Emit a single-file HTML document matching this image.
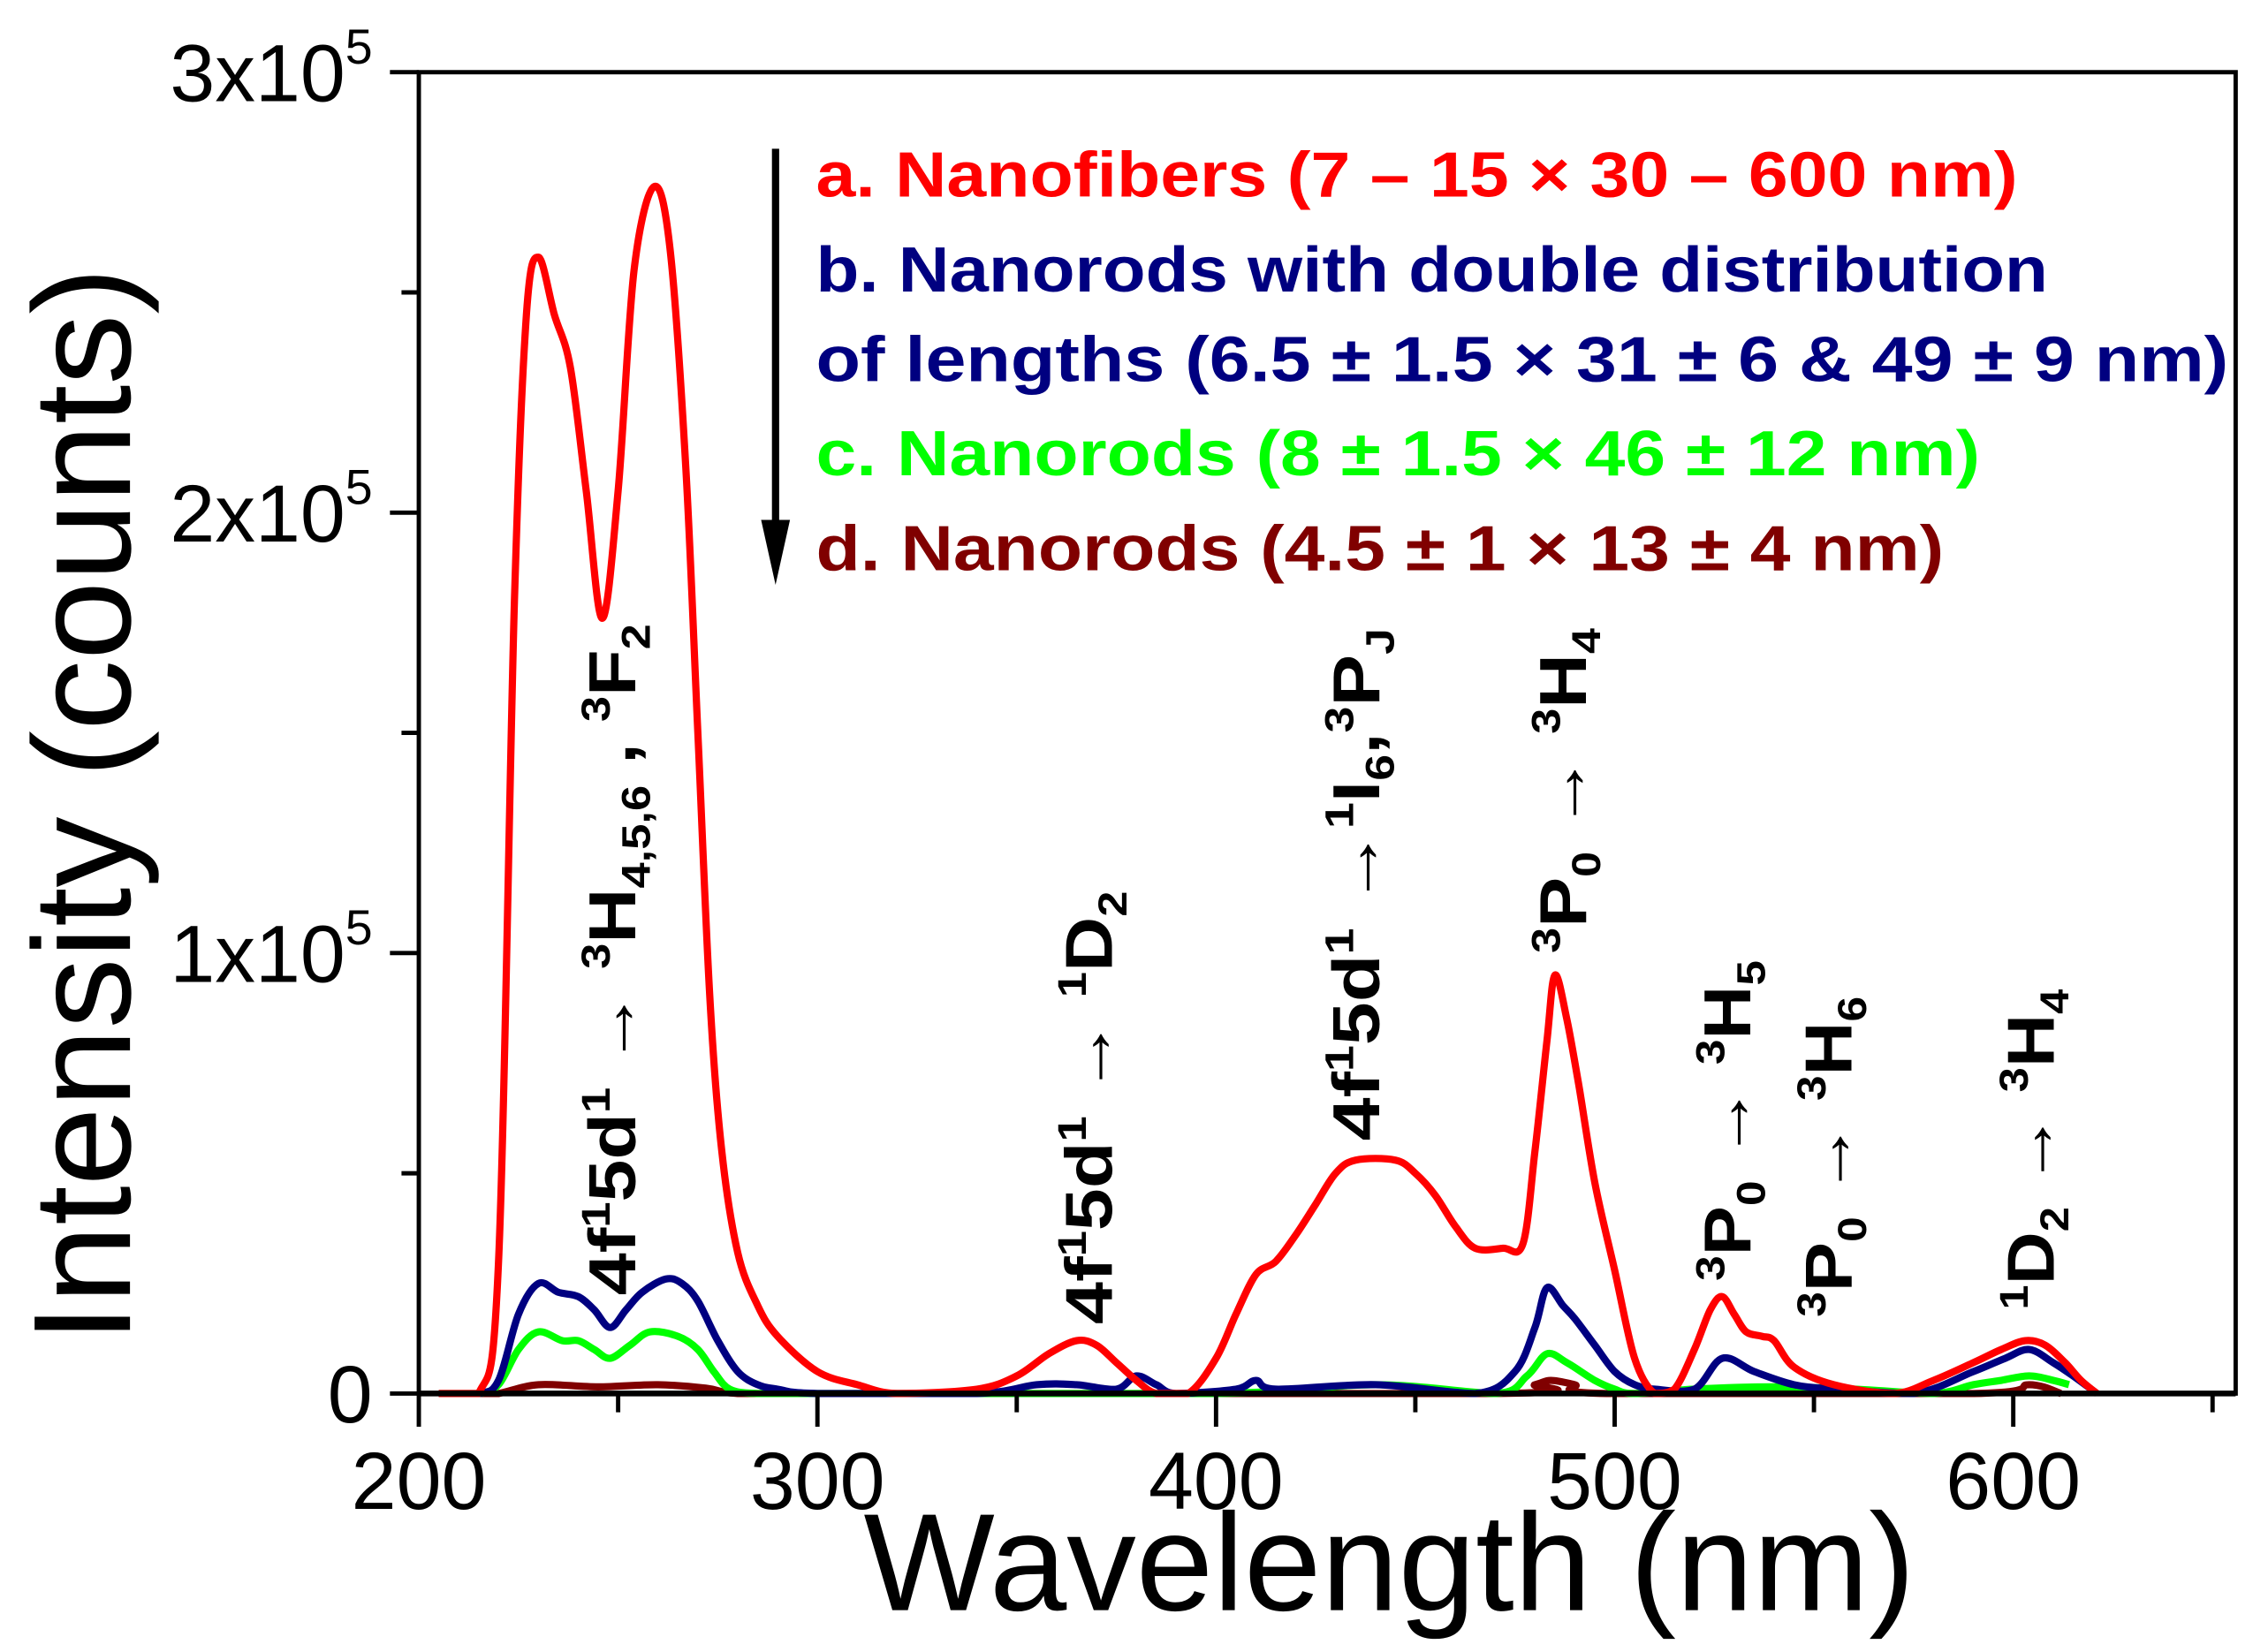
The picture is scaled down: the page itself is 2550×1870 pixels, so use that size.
<!DOCTYPE html>
<html><head><meta charset="utf-8"><style>
html,body{margin:0;padding:0;background:#fff;}
svg{display:block;}
text{font-family:"Liberation Sans",sans-serif;}
</style></head><body>
<svg id="chart" width="2550" height="1870" viewBox="0 0 1560 1144" xmlns="http://www.w3.org/2000/svg">
<rect width="1560" height="1144" fill="#fff"/>
<g id="frame"></g>
<g id="series"></g>
<g id="axes"></g>
<text x="962" y="1115" font-size="96" text-anchor="middle" textLength="728" lengthAdjust="spacingAndGlyphs">Wavelength (nm)</text>
<text transform="translate(90,930) rotate(-90)" font-size="96" textLength="745" lengthAdjust="spacingAndGlyphs">Intensity (counts)</text>
<g font-weight="bold" font-size="44">
<line x1="537" y1="103" x2="537" y2="370" stroke="#000" stroke-width="5"/>
<polygon points="527,360 547,360 537,405" fill="#000"/>
<text x="565" y="136" fill="#ff0000" textLength="832" lengthAdjust="spacingAndGlyphs">a. Nanofibers (7 – 15 × 30 – 600 nm)</text>
<text x="565" y="202" fill="#000080" textLength="853" lengthAdjust="spacingAndGlyphs">b. Nanorods with double distribution</text>
<text x="565" y="264" fill="#000080" textLength="978" lengthAdjust="spacingAndGlyphs">of lengths (6.5 ± 1.5 × 31 ± 6 &amp; 49 ± 9 nm)</text>
<text x="565" y="329" fill="#00ff00" textLength="806" lengthAdjust="spacingAndGlyphs">c. Nanorods (8 ± 1.5 × 46 ± 12 nm)</text>
<text x="565" y="395" fill="#800000" textLength="781" lengthAdjust="spacingAndGlyphs">d. Nanorods (4.5 ± 1 × 13 ± 4 nm)</text>
</g>
<g font-weight="bold" font-size="46" fill="#000">
<text transform="translate(440,897) rotate(-90)" textLength="465" lengthAdjust="spacingAndGlyphs">4f<tspan font-size="28" dy="-18">1</tspan><tspan dy="18">5d</tspan><tspan font-size="28" dy="-18">1</tspan><tspan dy="18"> → </tspan><tspan font-size="28" dy="-18">3</tspan><tspan dy="18">H</tspan><tspan font-size="28" dy="10">4,5,6</tspan><tspan dy="-10"> , </tspan><tspan font-size="28" dy="-18">3</tspan><tspan dy="18">F</tspan><tspan font-size="28" dy="10">2</tspan></text>
<text transform="translate(770,917) rotate(-90)" textLength="300" lengthAdjust="spacingAndGlyphs">4f<tspan font-size="28" dy="-18">1</tspan><tspan dy="18">5d</tspan><tspan font-size="28" dy="-18">1</tspan><tspan dy="18"> → </tspan><tspan font-size="28" dy="-18">1</tspan><tspan dy="18">D</tspan><tspan font-size="28" dy="10">2</tspan></text>
<text transform="translate(955,790) rotate(-90)" textLength="355" lengthAdjust="spacingAndGlyphs">4f<tspan font-size="28" dy="-18">1</tspan><tspan dy="18">5d</tspan><tspan font-size="28" dy="-18">1</tspan><tspan dy="18"> →</tspan><tspan font-size="28" dy="-18">1</tspan><tspan dy="18">I</tspan><tspan font-size="28" dy="10">6</tspan><tspan dy="-10">,</tspan><tspan font-size="28" dy="-18">3</tspan><tspan dy="18">P</tspan><tspan font-size="28" dy="10">J</tspan></text>
<text transform="translate(1098,660) rotate(-90)" textLength="225" lengthAdjust="spacingAndGlyphs"><tspan font-size="28" dy="-18">3</tspan><tspan dy="18">P</tspan><tspan font-size="28" dy="10">0</tspan><tspan dy="-10"> → </tspan><tspan font-size="28" dy="-18">3</tspan><tspan dy="18">H</tspan><tspan font-size="28" dy="10">4</tspan></text>
<text transform="translate(1212,887) rotate(-90)" textLength="222" lengthAdjust="spacingAndGlyphs"><tspan font-size="28" dy="-18">3</tspan><tspan dy="18">P</tspan><tspan font-size="28" dy="10">0</tspan><tspan dy="-10"> → </tspan><tspan font-size="28" dy="-18">3</tspan><tspan dy="18">H</tspan><tspan font-size="28" dy="10">5</tspan></text>
<text transform="translate(1282,912) rotate(-90)" textLength="222" lengthAdjust="spacingAndGlyphs"><tspan font-size="28" dy="-18">3</tspan><tspan dy="18">P</tspan><tspan font-size="28" dy="10">0</tspan><tspan dy="-10"> → </tspan><tspan font-size="28" dy="-18">3</tspan><tspan dy="18">H</tspan><tspan font-size="28" dy="10">6</tspan></text>
<text transform="translate(1422,907) rotate(-90)" textLength="222" lengthAdjust="spacingAndGlyphs"><tspan font-size="28" dy="-18">1</tspan><tspan dy="18">D</tspan><tspan font-size="28" dy="10">2</tspan><tspan dy="-10"> → </tspan><tspan font-size="28" dy="-18">3</tspan><tspan dy="18">H</tspan><tspan font-size="28" dy="10">4</tspan></text>
</g>
</svg>
<script>
const xTicks = [200, 300, 400, 500, 600];
const xMinor = [250, 350, 450, 550, 650];
const yTicks = [0, 100000, 200000, 300000];
const yTickLabels = ["0", "1x10", "2x10", "3x10"];
const yMinor = [50000, 150000, 250000];

const wlA = [205,215,220,224,227,230,234,238,242,246,250,254,259,263,267,270,273,276,280,285,290,300,310,320,340,350,358,365,370,375,380,385,393,400,405,410,415,420,425,430,435,445,450,455,460,465,472,477,480,483,485,488,491,495,500,505,510,515,520,524,527,530,533,537,540,545,555,570,580,590,597,603,608,613,617,621];
const valA = [0,0,30000,180000,245000,258000,245000,233000,205000,176000,205000,255000,274000,260000,210000,150000,90000,55000,32000,20000,13000,5000,2000,0,1000,4000,9000,12000,11000,7000,3000,0,0,8000,18000,27000,30000,36000,43000,50000,53000,53000,50000,45000,38000,33000,33000,34000,55000,80000,95000,85000,70000,48000,28000,8000,0,1000,10000,19000,22000,18000,14000,13000,12000,6000,2000,0,3000,7000,10000,12000,11000,7000,3000,0];

const wlB = [205,215,220,225,230,235,240,244,248,252,256,262,266,270,275,280,285,290,300,340,355,365,375,380,385,390,405,410,415,440,465,475,480,483,487,490,495,500,505,510,520,527,535,545,555,575,590,598,604,610,615,621];
const valB = [0,0,3000,18000,25000,23000,22000,19000,15000,19000,23000,26000,25000,21000,12000,5000,2000,1000,0,0,2000,2000,1000,4000,2000,0,1000,3000,1000,2000,0,5000,15000,24000,20000,17000,11000,5000,2000,1000,1000,8000,5000,2000,1000,0,5000,8000,10000,7000,4000,0];

const wlC = [205,215,220,225,230,236,240,244,248,253,258,265,270,274,278,285,300,400,440,470,478,483,488,495,500,505,520,540,560,580,590,597,604,610,614];
const valC = [0,0,2000,10000,14000,12000,12000,10000,8000,11000,14000,13000,10000,5000,1000,0,0,0,2000,0,4000,9000,7000,3000,1000,0,1000,1500,1000,0,2000,3000,4000,3000,2000];

const wlD = [215,220,230,245,260,272,280,300,470,480,484,490,498,590,604,612];
const valD = [0,0,2000,1500,2000,1200,0,0,0,2000,3000,2000,0,0,2000,0];

const NS = "http://www.w3.org/2000/svg";
const X0 = 290, PXNM = 276 / 100, Y0 = 965, PXV = 305 / 100000;
function xs(w) { return X0 + (w - 200) * PXNM; }
function ys(v) { return Y0 - v * PXV; }
function mk(tag, attrs, parent) {
  const e = document.createElementNS(NS, tag);
  for (const k in attrs) e.setAttribute(k, attrs[k]);
  parent.appendChild(e);
  return e;
}
function smoothPath(wl, val) {
  const p = wl.map((w, i) => [xs(w), ys(val[i])]);
  let d = "M" + p[0][0].toFixed(1) + "," + p[0][1].toFixed(1);
  const cl = y => Math.min(y, Y0);
  for (let i = 0; i < p.length - 1; i++) {
    const p0 = p[i - 1] || p[i], p1 = p[i], p2 = p[i + 1], p3 = p[i + 2] || p2;
    const c1 = [p1[0] + (p2[0] - p0[0]) / 6, cl(p1[1] + (p2[1] - p0[1]) / 6)];
    const c2 = [p2[0] - (p3[0] - p1[0]) / 6, cl(p2[1] - (p3[1] - p1[1]) / 6)];
    d += " C" + c1.map(v => v.toFixed(1)).join(",") + " " + c2.map(v => v.toFixed(1)).join(",") + " " + p2[0].toFixed(1) + "," + p2[1].toFixed(1);
  }
  return d;
}
const frame = document.getElementById("frame");
const series = document.getElementById("series");
const axes = document.getElementById("axes");

const fr = mk("rect", {x: 290, y: 50, width: 1258, height: 915, fill: "none", stroke: "#000", "stroke-width": 3}, frame);



const defs = [[wlD, valD, "#800000", "series-d-nanorods-small"], [wlC, valC, "#00ff00", "series-c-nanorods"], [wlB, valB, "#000080", "series-b-nanorods-double"], [wlA, valA, "#ff0000", "series-a-nanofibers"]];
defs.forEach(s => {
  const p = mk("path", {d: smoothPath(s[0], s[1]), fill: "none", stroke: s[2], "stroke-width": 5, "stroke-linejoin": "round"}, series);
  
  
});
const bx = mk("line", {x1: 290, y1: 965, x2: 1548, y2: 965, stroke: "#000", "stroke-width": 4}, axes);



xTicks.forEach(t => {
  const l = mk("line", {x1: xs(t), y1: 965, x2: xs(t), y2: 988, stroke: "#000", "stroke-width": 3}, axes);
  
  
  const tx = mk("text", {x: xs(t), y: 1045, "font-size": 56, "text-anchor": "middle"}, axes);
  tx.textContent = String(t);
  
  
});
xMinor.forEach(t => {
  const l = mk("line", {x1: xs(t), y1: 965, x2: xs(t), y2: 978, stroke: "#000", "stroke-width": 3}, axes);
  
  
});
yTicks.forEach((t, i) => {
  const l = mk("line", {x1: 290, y1: ys(t), x2: 270, y2: ys(t), stroke: "#000", "stroke-width": 3}, axes);
  
  
  const tx = mk("text", {x: 258, y: ys(t) + 20, "font-size": 56, "text-anchor": "end"}, axes);
  
  
  tx.textContent = yTickLabels[i];
  if (i > 0) {
    const sup = mk("tspan", {"font-size": 34, dy: -26}, tx);
    sup.textContent = "5";
  }
});
yMinor.forEach(t => {
  const l = mk("line", {x1: 290, y1: ys(t), x2: 278, y2: ys(t), stroke: "#000", "stroke-width": 3}, axes);
  
  
});
</script>
</body></html>
